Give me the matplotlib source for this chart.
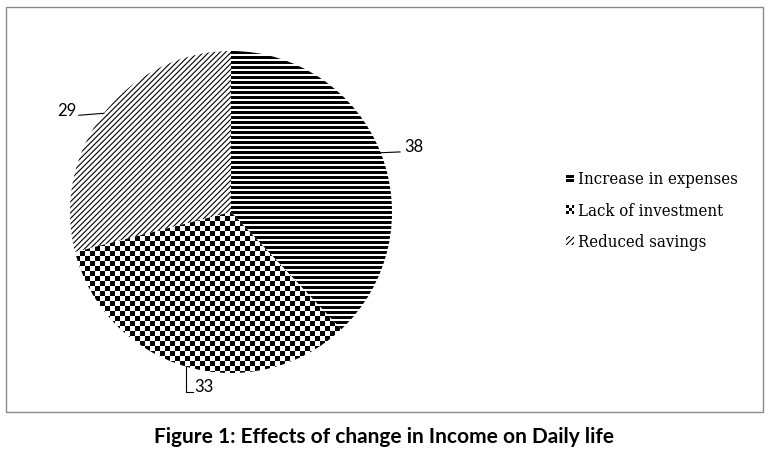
import numpy as np
import matplotlib
matplotlib.use('Agg')
import matplotlib.pyplot as plt
from matplotlib.patches import Rectangle, Patch
from matplotlib.legend_handler import HandlerBase

categories = ['Increase in expenses', 'Lack of investment', 'Reduced savings']
values = [38, 33, 29]
hatches = ['---', None, '//////']
caption = 'Figure 1: Effects of change in Income on Daily life'

W, H = 769, 458
fig = plt.figure(figsize=(W / 100, H / 100), dpi=100)
cx, cy, R = 231, 212, 161
ax = fig.add_axes([(cx - R) / W, (H - cy - R) / H, 2 * R / W, 2 * R / H])

wedges, _ = ax.pie(values, startangle=90, counterclock=False,
                   colors=['white'] * 3,
                   wedgeprops=dict(edgecolor='black', linewidth=0))


def set_hlw(p, lw):
    if hasattr(p, 'set_hatch_linewidth'):
        p.set_hatch_linewidth(lw)


wedges[2].set_hatch(hatches[2])
set_hlw(wedges[2], 0.8)
plt.rcParams['hatch.linewidth'] = 0.8

# textures (stripes and checkerboard), one texel per pixel, clipped to the wedges
npx = 2 * R
ii, jj = np.indices((npx, npx))
stripes = ((ii % 5) >= 3).astype(float)          # 3 px black, 2 px white
chk = (((ii // 5) + (jj // 5)) % 2).astype(float)  # 5 px squares
im0 = ax.imshow(stripes, cmap='gray', extent=(-1, 1, -1, 1), interpolation='nearest',
                zorder=3)
im0.set_clip_path(wedges[0])
im1 = ax.imshow(chk, cmap='gray', extent=(-1, 1, -1, 1), interpolation='nearest', zorder=3)
im1.set_clip_path(wedges[1])
ax.set_xlim(-1, 1)
ax.set_ylim(-1, 1)
ax.set_aspect('equal')
ax.axis('off')

serif = 'DejaVu Serif'
fs = 12
lab_font = dict(family='Lato', fontsize=12)

# labels with leader lines
for i, w in enumerate(wedges):
    th = np.deg2rad((w.theta1 + w.theta2) / 2)
    ex, ey = np.cos(th), np.sin(th)
    if i == 0:
        ax.plot([ex, 1.05], [ey, ey + 0.005], color='black', lw=0.8, clip_on=False)
        ax.text(1.075, 0.404, str(values[i]), ha='left', va='center',
                clip_on=False, **lab_font)
    elif i == 1:
        ax.plot([ex, ex, ex + 0.045], [ey, -1.118, -1.118], color='black', lw=0.8, clip_on=False)
        ax.text(ex + 0.05, -1.09, str(values[i]), ha='left', va='center',
                clip_on=False, **lab_font)
    else:
        ax.plot([ex, -0.945], [ey, ey - 0.012], color='black', lw=0.8, clip_on=False)
        ax.text(-0.96, 0.63, str(values[i]), ha='right', va='center',
                clip_on=False, **lab_font)


class CheckerHandler(HandlerBase):
    def create_artists(self, legend, orig_handle, xdescent, ydescent, width, height,
                       fontsize, trans):
        arts = []
        k = 3
        for a in range(k):
            for b in range(k):
                if (a + b) % 2 == 0:
                    arts.append(Rectangle((-xdescent + a * width / k, -ydescent + b * height / k),
                                          width / k, height / k, facecolor='black',
                                          edgecolor='none', transform=trans))
        return arts


class StripeHandler(HandlerBase):
    def create_artists(self, legend, orig_handle, xdescent, ydescent, width, height,
                       fontsize, trans):
        arts = []
        for b in (0.1, 0.6):
            arts.append(Rectangle((-xdescent, -ydescent + b * height), width, 0.32 * height,
                                  facecolor='black', edgecolor='none', transform=trans))
        return arts


handles = [Patch(facecolor='white', edgecolor='none'),
           Patch(facecolor='white', edgecolor='none'),
           Patch(facecolor='white', edgecolor='black', hatch=hatches[2], lw=0)]
leg = fig.legend(handles, categories, loc='center left',
                 bbox_to_anchor=(566 / W, (H - 211) / H), frameon=False,
                 prop=dict(family=serif, size=fs, stretch='condensed'),
                 handlelength=0.5, handleheight=0.45,
                 handletextpad=0.25, labelspacing=0.85, borderpad=0, borderaxespad=0,
                 handler_map={handles[0]: StripeHandler(), handles[1]: CheckerHandler()})

fig.patches.append(Rectangle((6 / W, (H - 412) / H), (763 - 6) / W, (412 - 7) / H,
                             transform=fig.transFigure, fill=False,
                             edgecolor='#8a8a8a', lw=1))

fig.text(384 / W, (H - 437) / H, caption, ha='center', va='center',
         fontsize=15, fontweight='bold', family='Lato')

fig.savefig('out.png', dpi=100)
